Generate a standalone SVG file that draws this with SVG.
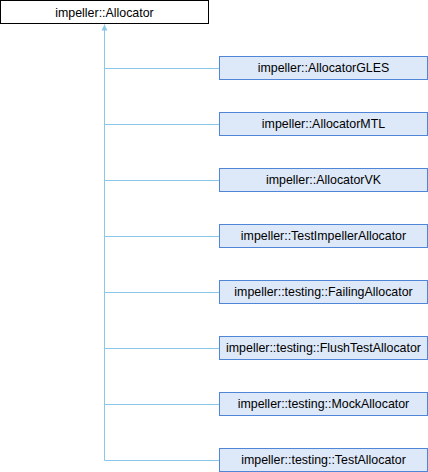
<svg xmlns="http://www.w3.org/2000/svg" width="428" height="472" viewBox="0 0 428 472">
<style>
.base rect{fill:#ffffff;stroke:#000000;stroke-width:1}
.node rect{fill:#dde8f8;stroke:#4f86d8;stroke-width:1}
text{font-family:"Liberation Sans",Arial,sans-serif;font-size:12.4px;fill:#000000;text-anchor:middle}
.edges path{fill:none;stroke:#8cc7ea;stroke-width:1}
</style>
<defs>
<marker id="arr" markerWidth="7" markerHeight="7" refX="6.5" refY="3.5" orient="auto" markerUnits="userSpaceOnUse" viewBox="0 0 7 7">
<path d="M0.5,0.5 L6.5,3.5 L0.5,6.5 Z" fill="#8cc7ea"/>
</marker>
</defs>
<g id="edges" class="edges">
<path d="M104.5,460.5 L104.5,24.5" marker-end="url(#arr)"/>
<path d="M104.5,68.5 H219"/>
<path d="M104.5,124.5 H219"/>
<path d="M104.5,180.5 H219"/>
<path d="M104.5,236.5 H219"/>
<path d="M104.5,292.5 H219"/>
<path d="M104.5,348.5 H219"/>
<path d="M104.5,404.5 H219"/>
<path d="M104.5,460.5 H219"/>
</g>
<g id="n0" class="base"><rect x="0.5" y="0.5" width="208" height="23"/><text x="104.5" y="16.5">impeller::Allocator</text></g>
<g id="n1" class="node"><rect x="219.5" y="56.5" width="208" height="23"/><text x="323.5" y="72">impeller::AllocatorGLES</text></g>
<g id="n2" class="node"><rect x="219.5" y="112.5" width="208" height="23"/><text x="323.5" y="128">impeller::AllocatorMTL</text></g>
<g id="n3" class="node"><rect x="219.5" y="168.5" width="208" height="23"/><text x="323.5" y="184">impeller::AllocatorVK</text></g>
<g id="n4" class="node"><rect x="219.5" y="224.5" width="208" height="23"/><text x="323.5" y="240">impeller::TestImpellerAllocator</text></g>
<g id="n5" class="node"><rect x="219.5" y="280.5" width="208" height="23"/><text x="323.5" y="296">impeller::testing::FailingAllocator</text></g>
<g id="n6" class="node"><rect x="219.5" y="336.5" width="208" height="23"/><text x="323.5" y="352">impeller::testing::FlushTestAllocator</text></g>
<g id="n7" class="node"><rect x="219.5" y="392.5" width="208" height="23"/><text x="323.5" y="408">impeller::testing::MockAllocator</text></g>
<g id="n8" class="node"><rect x="219.5" y="448.5" width="208" height="23"/><text x="323.5" y="464">impeller::testing::TestAllocator</text></g>
</svg>
